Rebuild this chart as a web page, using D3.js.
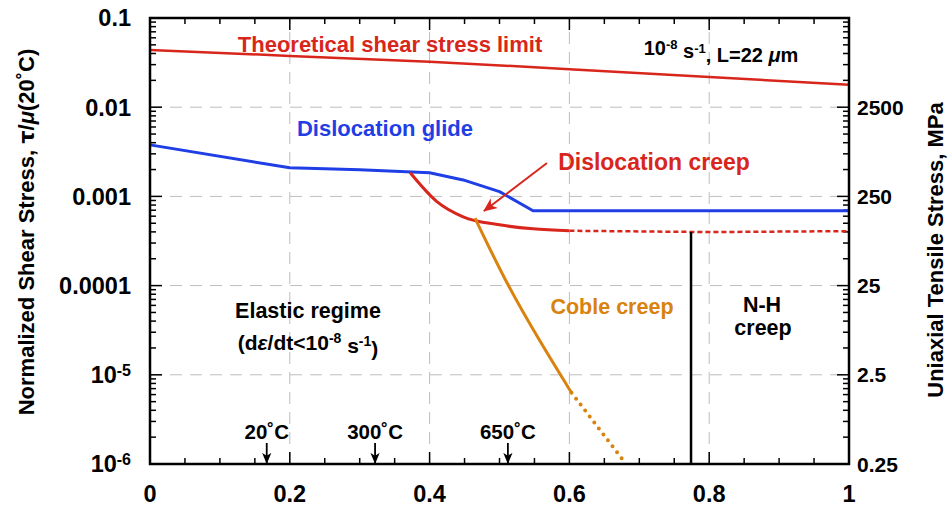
<!DOCTYPE html>
<html>
<head>
<meta charset="utf-8">
<script src="https://cdn.jsdelivr.net/npm/d3@7"></script>
<style>
  body { margin: 0; background: #fff; }
  svg { font-family: "Liberation Sans", Arial, Helvetica, sans-serif; font-weight: bold; }
</style>
</head>
<body>
<div id="chart"></div>
<script>
// Deformation map data (x = homologous temperature, y = tau/mu)
var xTicks = [0, 0.2, 0.4, 0.6, 0.8, 1];
var yTicks = [0.1, 0.01, 0.001, 0.0001, 1e-5, 1e-6];
var yTickBase = ["0.1", "0.01", "0.001", "0.0001", "10", "10"];
var yTickExp = ["", "", "", "", "-5", "-6"];
var mpaTicks = [0.25, 2.5, 25, 250, 2500];
var mpaPerUnit = 250000;

var theoX = [0, 0.2, 0.4, 0.6, 0.8, 1];
var theoY = [0.0439, 0.0376, 0.0324, 0.0267, 0.0218, 0.0178];

var glideX = [0, 0.2, 0.3, 0.4, 0.448, 0.5, 0.548, 1];
var glideY = [0.00378, 0.00209, 0.00199, 0.00184, 0.00153, 0.00113, 0.00069, 0.00069];

var creepX = [0.372, 0.41, 0.448, 0.5, 0.548, 0.6];
var creepY = [0.00185, 0.00088, 0.00059, 0.00048, 0.000433, 0.000412];
var creepDashX = [0.6, 0.8, 1];
var creepDashY = [0.000412, 0.000398, 0.000408];

var cobleX = [0.465, 0.51, 0.558, 0.603];
var cobleY = [0.00057, 0.000105, 0.0000235, 0.0000063];
var cobleDotX = [0.603, 0.681];
var cobleDotY = [0.0000063, 0.000001];

var nhX = 0.774;
var nhY = [0.0004, 0.000001];

var tempLabels = ["20˚C", "300˚C", "650˚C"];
var tempX = [0.167, 0.322, 0.512];

var red = "#d8261c", blue = "#1f3ee6", orange = "#d9820e";

var width = 951, height = 510;
var svg = d3.select("#chart").append("svg")
    .attr("width", width)
    .attr("height", height);

var x = d3.scaleLinear().domain([0, 1]).range([150, 849]);
var y = d3.scaleLog().domain([1e-6, 0.1]).range([464, 18]);

function pts(xs, ys) { return xs.map(function (v, i) { return [v, ys[i]]; }); }
var line = d3.line().x(function (d) { return x(d[0]); }).y(function (d) { return y(d[1]); });
var smooth = d3.line().curve(d3.curveMonotoneX).x(function (d) { return x(d[0]); }).y(function (d) { return y(d[1]); });

// grid
var grid = svg.append("g").attr("stroke", "#bdbdbd").attr("stroke-width", 1).attr("stroke-dasharray", "12,8");
grid.selectAll("line.gx").data(xTicks.slice(1, -1)).enter().append("line")
    .attr("x1", function (d) { return x(d); }).attr("x2", function (d) { return x(d); })
    .attr("y1", 464).attr("y2", 18);
grid.selectAll("line.gy").data(yTicks.slice(1, -1)).enter().append("line")
    .attr("y1", function (d) { return y(d); }).attr("y2", function (d) { return y(d); })
    .attr("x1", 150).attr("x2", 849);

// minor / major ticks (all inside)
var ticks = svg.append("g").attr("stroke", "#000").attr("stroke-width", 1.5);
var xMinor = d3.range(0, 21).map(function (i) { return i / 20; });
xMinor.forEach(function (v, i) {
    var len = i % 4 === 0 ? 12 : 6;
    ticks.append("line").attr("x1", x(v)).attr("x2", x(v)).attr("y1", 464).attr("y2", 464 - len);
    ticks.append("line").attr("x1", x(v)).attr("x2", x(v)).attr("y1", 18).attr("y2", 18 + len);
});
var yMinor = [];
d3.range(-6, -1).forEach(function (e) {
    d3.range(1, 10).forEach(function (k) { yMinor.push(k * Math.pow(10, e)); });
});
yMinor.push(0.1);
yMinor.forEach(function (v) {
    var major = Math.abs(Math.log10(v) - Math.round(Math.log10(v))) < 1e-6;
    var len = major ? 12 : 6;
    ticks.append("line").attr("y1", y(v)).attr("y2", y(v)).attr("x1", 150).attr("x2", 150 + len);
    ticks.append("line").attr("y1", y(v)).attr("y2", y(v)).attr("x1", 849).attr("x2", 849 - len);
});

// curves
svg.append("path").attr("d", line(pts(theoX, theoY)))
    .attr("fill", "none").attr("stroke", red).attr("stroke-width", 2.5);
svg.append("path").attr("d", line(pts(glideX, glideY)))
    .attr("fill", "none").attr("stroke", blue).attr("stroke-width", 3).attr("stroke-linejoin", "round");
svg.append("path").attr("d", smooth(pts(creepX, creepY)))
    .attr("fill", "none").attr("stroke", red).attr("stroke-width", 3);
svg.append("path").attr("d", line(pts(creepDashX, creepDashY)))
    .attr("fill", "none").attr("stroke", red).attr("stroke-width", 2.5).attr("stroke-dasharray", "5,3");
svg.append("path").attr("d", d3.line().curve(d3.curveBasis)
        .x(function (d) { return x(d[0]); }).y(function (d) { return y(d[1]); })(pts(cobleX, cobleY)))
    .attr("fill", "none").attr("stroke", orange).attr("stroke-width", 3);
svg.append("path").attr("d", line(pts(cobleDotX, cobleDotY)))
    .attr("fill", "none").attr("stroke", orange).attr("stroke-width", 4)
    .attr("stroke-linecap", "round").attr("stroke-dasharray", "0,7.5");
svg.append("line")
    .attr("x1", x(nhX)).attr("x2", x(nhX)).attr("y1", y(nhY[0])).attr("y2", y(nhY[1]))
    .attr("stroke", "#000").attr("stroke-width", 2.5);

// frame
svg.append("rect").attr("x", 150).attr("y", 18).attr("width", 699).attr("height", 446)
    .attr("fill", "none").attr("stroke", "#000").attr("stroke-width", 2.5);

// tick labels
svg.selectAll("text.xl").data(xTicks).enter().append("text")
    .attr("x", function (d) { return x(d); }).attr("y", 502)
    .attr("text-anchor", "middle").style("font-size", "23.5px")
    .text(function (d) { return d; });

var yl = svg.selectAll("text.yl").data(yTicks).enter().append("text")
    .attr("x", 131).attr("y", function (d) { return y(d); }).attr("dy", "0.36em")
    .attr("text-anchor", "end").style("font-size", "23.5px");
yl.append("tspan").text(function (d, i) { return yTickBase[i]; });
yl.append("tspan").attr("dy", "-0.45em").style("font-size", "16px")
    .text(function (d, i) { return yTickExp[i]; });

svg.selectAll("text.rl").data(mpaTicks).enter().append("text")
    .attr("x", 857).attr("y", function (d) { return y(d / mpaPerUnit); }).attr("dy", "0.36em")
    .style("font-size", "21px")
    .text(function (d) { return d; });

// axis titles
var lt = svg.append("text").attr("transform", "translate(34,232) rotate(-90)")
    .attr("text-anchor", "middle").style("font-size", "22px");
lt.append("tspan").text("Normalized Shear Stress, ");
lt.append("tspan").style("font-family", "'DejaVu Sans'").style("font-size", "21px").text("τ");
lt.append("tspan").text("/");
lt.append("tspan").style("font-style", "italic").text("μ");
lt.append("tspan").text("(20˚C)");

svg.append("text").attr("transform", "translate(943,250) rotate(-90)")
    .attr("text-anchor", "middle").style("font-size", "22px")
    .text("Uniaxial Tensile Stress, MPa");

// annotations
function label(txt, cx, cy, color, size) {
    return svg.append("text").attr("x", cx).attr("y", cy).attr("dy", "0.36em")
        .attr("text-anchor", "middle").attr("fill", color).style("font-size", size + "px").text(txt);
}
label("Theoretical shear stress limit", 390, 44, red, 22);
label("Dislocation glide", 385, 128, blue, 22);
label("Dislocation creep", 654, 162, red, 23);
label("Coble creep", 612, 306, orange, 21.5);
label("Elastic regime", 308, 310, "#000", 21.5);
label("N-H", 762, 304, "#000", 21.5);
label("creep", 763, 327, "#000", 21.5);

var rate = svg.append("text").attr("x", 308).attr("y", 342).attr("dy", "0.36em")
    .attr("text-anchor", "middle").style("font-size", "21px");
rate.append("tspan").text("(d");
rate.append("tspan").style("font-style", "italic").text("ε");
rate.append("tspan").text("/dt<10");
rate.append("tspan").attr("dy", "-0.45em").style("font-size", "14px").text("-8");
rate.append("tspan").attr("dy", "0.45em").text(" s");
rate.append("tspan").attr("dy", "-0.45em").style("font-size", "14px").text("-1");
rate.append("tspan").attr("dy", "0.45em").text(")");

var cond = svg.append("text").attr("x", 721).attr("y", 48).attr("dy", "0.36em")
    .attr("text-anchor", "middle").style("font-size", "20px");
cond.append("tspan").text("10");
cond.append("tspan").attr("dy", "-0.45em").style("font-size", "13px").text("-8");
cond.append("tspan").attr("dy", "0.45em").text(" s");
cond.append("tspan").attr("dy", "-0.45em").style("font-size", "13px").text("-1");
cond.append("tspan").attr("dy", "0.45em").text(", L=22 ");
cond.append("tspan").style("font-style", "italic").text("μ");
cond.append("tspan").text("m");

// arrow heads
var defs = svg.append("defs");
defs.append("marker").attr("id", "headRed").attr("viewBox", "0 -6 14 12")
    .attr("refX", 13).attr("refY", 0).attr("markerWidth", 14).attr("markerHeight", 12)
    .attr("markerUnits", "userSpaceOnUse").attr("orient", "auto")
    .append("path").attr("d", "M0,-6L14,0L0,6L4,0Z").attr("fill", red);
defs.append("marker").attr("id", "headBlack").attr("viewBox", "0 -5 12 10")
    .attr("refX", 11).attr("refY", 0).attr("markerWidth", 11).attr("markerHeight", 10)
    .attr("markerUnits", "userSpaceOnUse").attr("orient", "auto")
    .append("path").attr("d", "M0,-5L12,0L0,5L3,0Z").attr("fill", "#000");

svg.append("line").attr("x1", 547).attr("y1", 163).attr("x2", 484).attr("y2", 211)
    .attr("stroke", red).attr("stroke-width", 2).attr("marker-end", "url(#headRed)");

tempLabels.forEach(function (t, i) {
    var px = x(tempX[i]);
    svg.append("text").attr("x", px).attr("y", 432).attr("dy", "0.36em")
        .attr("text-anchor", "middle").style("font-size", "20.5px").text(t);
    svg.append("line").attr("x1", px).attr("x2", px).attr("y1", 443).attr("y2", 463)
        .attr("stroke", "#000").attr("stroke-width", 1.8).attr("marker-end", "url(#headBlack)");
});
</script>
</body>
</html>
